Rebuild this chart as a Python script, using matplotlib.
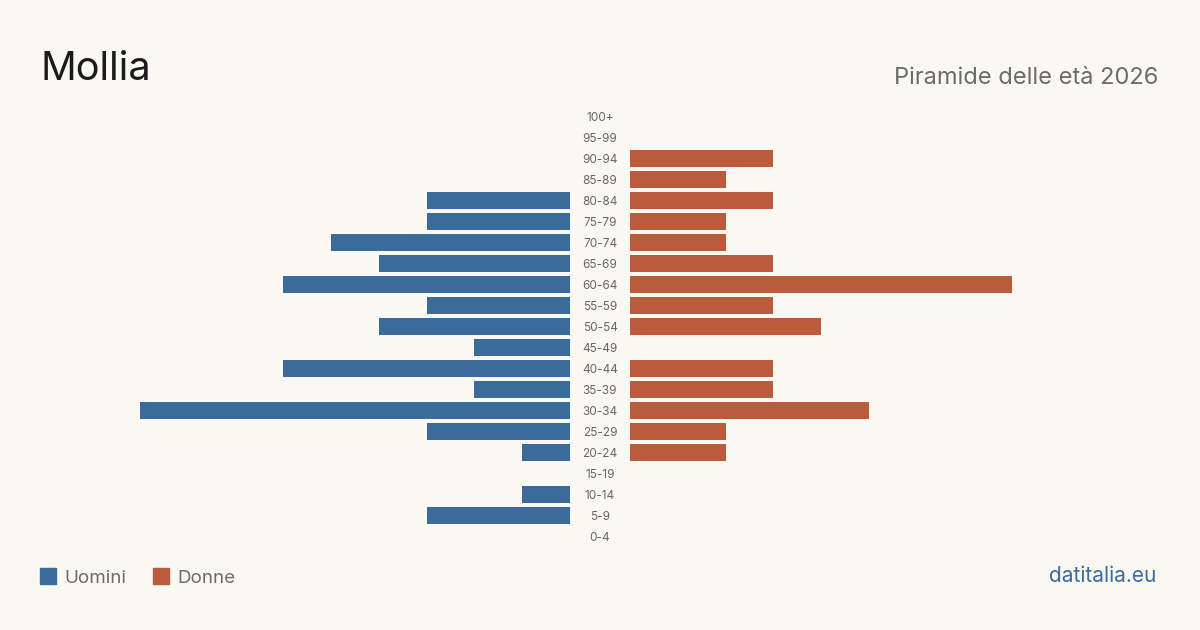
import matplotlib.pyplot as plt
from matplotlib.patches import Rectangle

plt.rcParams['font.family'] = ['Inter', 'DejaVu Sans']

# age classes from top to bottom
ages = ['100+', '95-99', '90-94', '85-89', '80-84', '75-79', '70-74', '65-69',
        '60-64', '55-59', '50-54', '45-49', '40-44', '35-39', '30-34', '25-29',
        '20-24', '15-19', '10-14', '5-9', '0-4']
men = [0, 0, 0, 0, 3, 3, 5, 4, 6, 3, 4, 2, 6, 2, 9, 3, 1, 0, 1, 3, 0]
women = [0, 0, 3, 2, 3, 2, 2, 3, 8, 3, 4, 0, 3, 3, 5, 2, 2, 0, 0, 0, 0]

bg = '#faf8f3'
blue = '#3b6b9b'
orange = '#b95c3c'

fig = plt.figure(figsize=(12, 6.3), dpi=100, facecolor=bg)

unit = 47.8  # pixels per person
bottom = (630 - 547.0) / 630
height = 441 / 630
w_px = 530

axl = fig.add_axes([40 / 1200, bottom, w_px / 1200, height])
axr = fig.add_axes([630 / 1200, bottom, w_px / 1200, height])

y = list(range(len(ages) - 1, -1, -1))
axl.barh(y, men, height=0.8, color=blue)
axr.barh(y, women, height=0.8, color=orange)

axl.set_xlim(w_px / unit, 0)
axr.set_xlim(0, w_px / unit)
for ax in (axl, axr):
    ax.set_ylim(-0.5, len(ages) - 0.5)
    ax.axis('off')
    ax.set_facecolor('none')

for yi, lab in zip(y, ages):
    axr.text(-30 / unit, yi, lab, ha='center', va='center_baseline', fontsize=8.5,
             color='#666666')

fig.text(40 / 1200, 1 - 80.5 / 630, 'Mollia', fontsize=28.5, color='#1a1a1a',
         va='baseline', ha='left')
fig.text(1158 / 1200, 1 - 84 / 630, 'Piramide delle età 2026', fontsize=17,
         color='#6b6b6b', va='baseline', ha='right')

# legend
fig.patches.append(Rectangle((40 / 1200, 1 - 584 / 630), 16 / 1200, 16 / 630,
                             transform=fig.transFigure, color=blue))
fig.text(64 / 1200, 1 - 583 / 630, 'Uomini', fontsize=13.5, color='#6b6b6b',
         va='baseline', ha='left')
fig.patches.append(Rectangle((153 / 1200, 1 - 584 / 630), 16 / 1200, 16 / 630,
                             transform=fig.transFigure, color=orange))
fig.text(177 / 1200, 1 - 583 / 630, 'Donne', fontsize=13.5, color='#6b6b6b',
         va='baseline', ha='left')

fig.text(1156 / 1200, 1 - 582.5 / 630, 'datitalia.eu', fontsize=15, color='#3b6b9b',
         va='baseline', ha='right')

fig.savefig('out.png', dpi=100, facecolor=bg)
